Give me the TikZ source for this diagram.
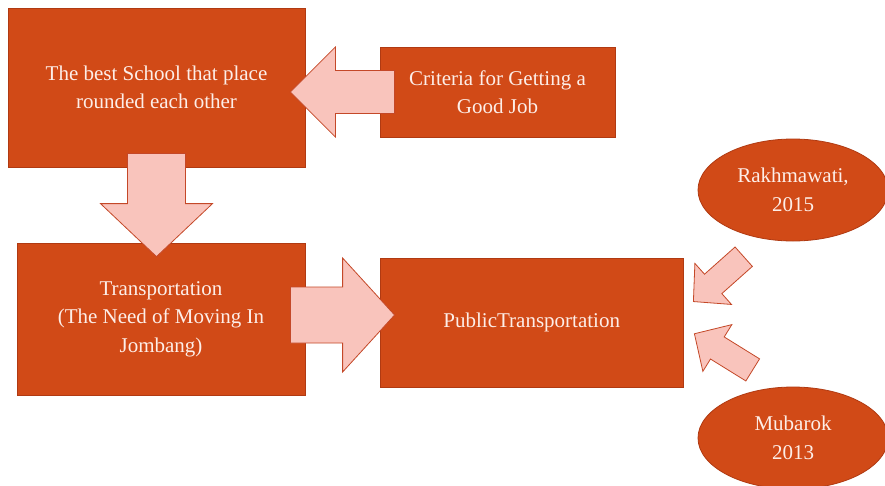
\documentclass[tikz,border=0pt]{standalone}
\usepackage{fontspec}
\setmainfont{Liberation Serif}
\usetikzlibrary{calc,shapes.geometric}

\definecolor{boxfill}{RGB}{209,74,23}
\definecolor{boxedge}{RGB}{176,58,18}
\definecolor{boxtext}{RGB}{253,238,232}
\definecolor{arrowfill}{RGB}{249,196,188}
\definecolor{arrowedge}{RGB}{196,72,40}

\tikzset{
  labelfont/.style={font=\fontsize{21}{28.5}\selectfont},
  box/.style={rectangle, fill=boxfill, draw=boxedge, line width=0.8pt,
    text=boxtext, align=center, inner sep=0pt, labelfont},
  oval/.style={ellipse, fill=boxfill, draw=boxedge, line width=0.8pt,
    text=boxtext, align=center, inner sep=0pt, labelfont,
    minimum width=190pt, minimum height=102pt},
  blockarrow/.style={fill=arrowfill, draw=arrowedge, line width=0.8pt,
    line join=miter},
}

% Block arrow from a tail coordinate to a tip coordinate:
% #1 tail, #2 tip, #3 shaft half-width, #4 head half-width, #5 head length
\newcommand\blockarr[5]{%
  \coordinate (#1-mid) at ($(#2)!#5!(#1)$);
  \draw[blockarrow]
    ($(#1)!#3!90:(#2)$) -- ($(#1-mid)!#3!90:(#2)$) --
    ($(#1-mid)!#4!90:(#2)$) -- (#2) --
    ($(#1-mid)!#4!-90:(#2)$) -- ($(#1-mid)!#3!-90:(#2)$) --
    ($(#1)!#3!-90:(#2)$) -- cycle;
}

\begin{document}
\begin{tikzpicture}[x=1pt, y=-1pt]
\useasboundingbox (0,0) rectangle (885,485);
\fill[white] (0,0) rectangle (885,485);

% boxes
\node[box, minimum width=297pt, minimum height=159pt] (A) at (156.5,87.5)
  {The best School that place\\rounded each other};
\node[box, minimum width=235pt, minimum height=90pt] (B) at (497.5,92)
  {Criteria for Getting a\\Good Job};
\node[box, minimum width=288pt, minimum height=152pt] (C) at (161,319)
  {Transportation\\(The Need of Moving In\\Jombang)};
\node[box, minimum width=303.5pt, minimum height=128.5pt] (D) at (531.75,322.75)
  {PublicTransportation};

% sources
\node[oval] (E1) at (793,190) {Rakhmawati,\\2015};
\node[oval] (E2) at (793,438) {Mubarok\\2013};

% criteria -> school
\coordinate (ab-t) at ($(B.west)+(15,0)$);
\coordinate (ab-p) at ($(A.east |- B.west)+(-15,0)$);
\blockarr{ab-t}{ab-p}{21.5pt}{45pt}{45pt}

% school -> transportation
\coordinate (dn-t) at ($(A.south)+(0,-14)$);
\coordinate (dn-p) at ($(A.south |- C.north)+(0,14)$);
\blockarr{dn-t}{dn-p}{29pt}{56pt}{53pt}

% transportation -> public transportation
\coordinate (cd-t) at ($(C.east)+(-15,-4)$);
\coordinate (cd-p) at ($(cd-t -| D.west)+(15,0)$);
\blockarr{cd-t}{cd-p}{28pt}{57pt}{52pt}

% sources -> public transportation
\coordinate (e1-t) at ($(E1.south)+(-49.3,15.3)$);
\coordinate (e1-p) at ($(D.east)+(9.5,-21.2)$);
\blockarr{e1-t}{e1-p}{13pt}{27.5pt}{26.5pt}

\coordinate (e2-t) at ($(E2.north)+(-40.3,-16.7)$);
\coordinate (e2-p) at ($(D.east)+(10.5,11)$);
\blockarr{e2-t}{e2-p}{13pt}{27.5pt}{27pt}
\end{tikzpicture}
\end{document}
